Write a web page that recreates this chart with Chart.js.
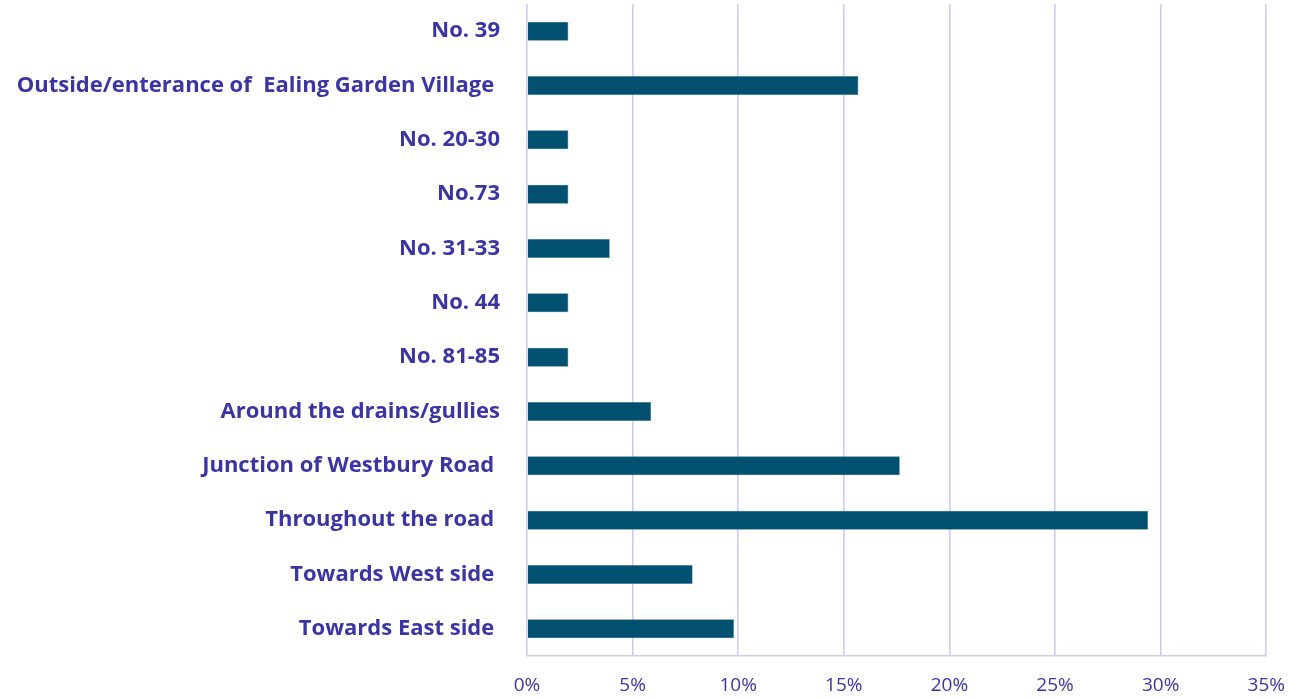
<!DOCTYPE html>
<html>
<head>
<meta charset="utf-8">
<script src="https://cdn.jsdelivr.net/npm/chart.js@4"></script>
<style>
  html, body { margin: 0; padding: 0; background: #ffffff; }
  #wrap { width: 1303px; height: 698px; position: relative; }
</style>
</head>
<body>
<div id="wrap"><canvas id="locChart"></canvas></div>
<script>
// categories, top to bottom
const locations = [
  "No. 39",
  "Outside/enterance of  Ealing Garden Village ",
  "No. 20-30",
  "No.73",
  "No. 31-33",
  "No. 44",
  "No. 81-85",
  "Around the drains/gullies",
  "Junction of Westbury Road ",
  "Throughout the road ",
  "Towards West side ",
  "Towards East side "
];

// share of responses (%)
const shares = [1.96, 15.69, 1.96, 1.96, 3.92, 1.96, 1.96, 5.88, 17.65, 29.41, 7.84, 9.80];

// x axis ticks
const xTicks = [0, 5, 10, 15, 20, 25, 30, 35];

const labelColor = "#3b34a3";
const gridColor = "#d0caef";

const ctx = document.getElementById("locChart").getContext("2d");
const chart = new Chart(ctx, {
  type: "bar",
  data: {
    labels: locations,
    datasets: [{
      data: shares,
      backgroundColor: "#02506f",
      borderColor: "#3f7a95",
      borderWidth: 0.6,
      barPercentage: 0.35,
      categoryPercentage: 1
    }]
  },
  options: {
    indexAxis: "y",
    responsive: true,
    maintainAspectRatio: false,
    animation: false,
    layout: { padding: { top: 4, right: 35, left: 0, bottom: 0 } },
    plugins: {
      legend: { display: false },
      tooltip: { enabled: false }
    },
    scales: {
      x: {
        min: xTicks[0],
        max: xTicks[xTicks.length - 1],
        afterBuildTicks: (scale) => {
          scale.ticks = xTicks.map(v => ({ value: v }));
        },
        afterFit: (scale) => { scale.height = 42; },
        grid: { color: gridColor, lineWidth: 1.6, drawTicks: false },
        border: { display: true, color: gridColor, width: 1.6 },
        ticks: {
          padding: 18,
          color: labelColor,
          font: { family: "Open Sans", size: 19 },
          callback: (v) => v + "%"
        }
      },
      y: {
        afterFit: (scale) => {
          scale.width = 527;
          scale.paddingTop = 0;
          scale.paddingBottom = 0;
        },
        grid: { display: false, drawTicks: false },
        border: { display: false },
        ticks: {
          padding: 27,
          color: labelColor,
          font: { family: "Open Sans", size: 22, weight: "bold" },
          autoSkip: false
        }
      }
    }
  }
});
</script>
</body>
</html>
